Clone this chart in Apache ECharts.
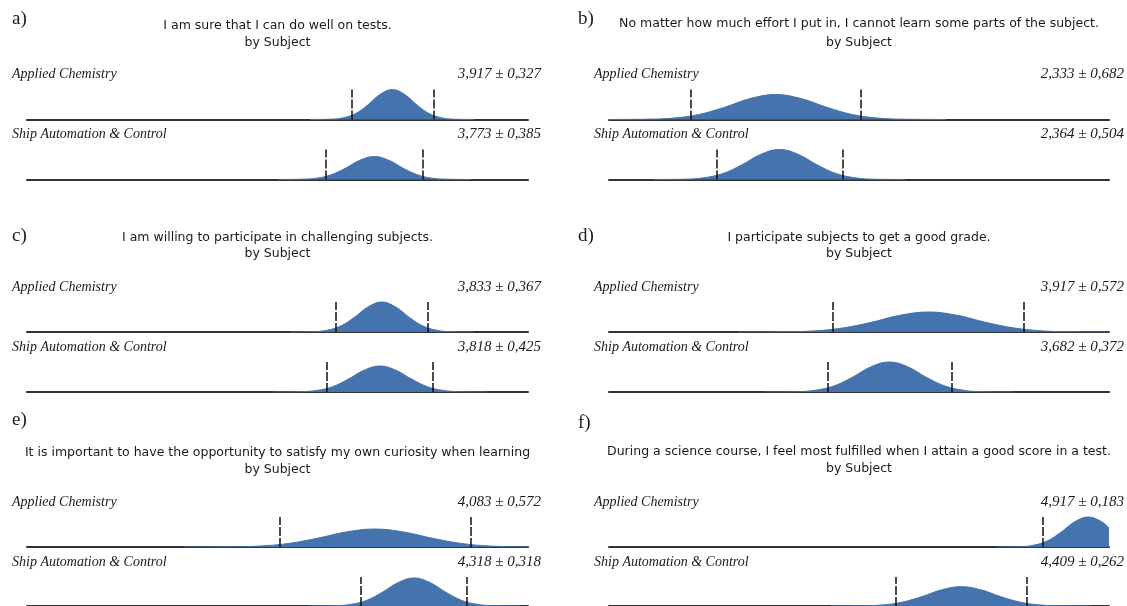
<!DOCTYPE html>
<html>
<head>
<meta charset="utf-8">
<title>Distributions by Subject</title>
<script src="https://cdn.jsdelivr.net/npm/echarts@6/dist/echarts.min.js"></script>
<style>
  html, body { margin: 0; padding: 0; background: #fff; }
  #chart { width: 1127px; height: 606px; }
</style>
</head>
<body>
<div id="chart"></div>
<script>
/**
 * Six small-multiple density plots (a-f), two subjects each.
 * Dashed markers sit at mean - sd and mean + sd.
 */

const PANEL_LETTERS = ['a)', 'b)', 'c)', 'd)', 'e)', 'f)'];
const PANEL_TITLES = [
    'I am sure that I can do well on tests.',
    'No matter how much effort I put in, I cannot learn some parts of the subject.',
    'I am willing to participate in challenging subjects.',
    'I participate subjects to get a good grade.',
    'It is important to have the opportunity to satisfy my own curiosity when learning',
    'During a science course, I feel most fulfilled when I attain a good score in a test.'
];
const SUBTITLE = 'by Subject';
const SUBJECTS = ['Applied Chemistry', 'Ship Automation & Control'];

// x range of each panel's scale
const AXIS_MIN = [1, 1, 1, 2, 2, 3];
const AXIS_MAX = [5, 5, 5, 5, 5, 5];

// per curve: a-AC, a-SAC, b-AC, b-SAC, ...
const MEANS = [3.917, 3.773, 2.333, 2.364, 3.833, 3.818, 3.917, 3.682, 4.083, 4.318, 4.917, 4.409];
const SDS   = [0.327, 0.385, 0.682, 0.504, 0.367, 0.425, 0.572, 0.372, 0.572, 0.318, 0.183, 0.262];
const STAT_LABELS = [
    '3,917 ± 0,327', '3,773 ± 0,385',
    '2,333 ± 0,682', '2,364 ± 0,504',
    '3,833 ± 0,367', '3,818 ± 0,425',
    '3,917 ± 0,572', '3,682 ± 0,372',
    '4,083 ± 0,572', '4,318 ± 0,318',
    '4,917 ± 0,183', '4,409 ± 0,262'
];

// density outlines: [x, height]
const densA1 = [[3.263, 0], [3.426, 0.3], [3.525, 1.7], [3.623, 5.9], [3.721, 14.6], [3.819, 25.1], [3.917, 30], [4.015, 25.1], [4.113, 14.6], [4.211, 5.9], [4.309, 1.7], [4.408, 0.3], [4.571, 0]];
const densA2 = [[3.003, 0], [3.195, 0.3], [3.311, 1.3], [3.426, 4.6], [3.542, 11.2], [3.657, 19.2], [3.773, 23], [3.889, 19.2], [4.004, 11.2], [4.120, 4.6], [4.235, 1.3], [4.351, 0.3], [4.543, 0]];
const densB1 = [[1.0, 0], [1.310, 0.3], [1.515, 1.4], [1.719, 5.0], [1.924, 12.2], [2.128, 20.9], [2.333, 25], [2.538, 20.9], [2.742, 12.2], [2.947, 5.0], [3.151, 1.4], [3.356, 0.3], [3.697, 0]];
const densB2 = [[1.356, 0], [1.608, 0.3], [1.759, 1.7], [1.910, 5.9], [2.062, 14.6], [2.213, 25.1], [2.364, 30], [2.515, 25.1], [2.666, 14.6], [2.818, 5.9], [2.969, 1.7], [3.120, 0.3], [3.372, 0]];
const densC1 = [[3.099, 0], [3.282, 0.3], [3.393, 1.7], [3.503, 5.9], [3.613, 14.6], [3.723, 25.1], [3.833, 30], [3.943, 25.1], [4.053, 14.6], [4.163, 5.9], [4.273, 1.7], [4.384, 0.3], [4.567, 0]];
const densC2 = [[2.968, 0], [3.180, 0.3], [3.308, 1.5], [3.435, 5.1], [3.563, 12.7], [3.690, 21.7], [3.818, 26], [3.946, 21.7], [4.073, 12.7], [4.201, 5.1], [4.328, 1.5], [4.456, 0.3], [4.668, 0]];
const densD1 = [[2.773, 0], [3.059, 0.2], [3.231, 1.1], [3.402, 4.0], [3.574, 9.7], [3.745, 16.7], [3.917, 20], [4.089, 16.7], [4.260, 9.7], [4.432, 4.0], [4.603, 1.1], [4.775, 0.2], [5.0, 0]];
const densD2 = [[2.938, 0], [3.124, 0.3], [3.236, 1.7], [3.347, 5.9], [3.459, 14.6], [3.570, 25.1], [3.682, 30], [3.794, 25.1], [3.905, 14.6], [4.017, 5.9], [4.128, 1.7], [4.240, 0.3], [4.426, 0]];
const densE1 = [[2.939, 0], [3.225, 0.2], [3.397, 1.0], [3.568, 3.6], [3.740, 8.8], [3.911, 15.0], [4.083, 18], [4.255, 15.0], [4.426, 8.8], [4.598, 3.6], [4.769, 1.0], [4.941, 0.2], [5.0, 0.1]];
const densE2 = [[3.682, 0], [3.841, 0.3], [3.936, 1.6], [4.032, 5.7], [4.127, 14.1], [4.223, 24.2], [4.318, 29], [4.413, 24.2], [4.509, 14.1], [4.604, 5.7], [4.700, 1.6], [4.795, 0.3], [4.954, 0]];
const densF1 = [[4.551, 0], [4.642, 0.3], [4.697, 1.7], [4.752, 5.9], [4.807, 14.6], [4.862, 25.1], [4.917, 30], [4.972, 25.1], [5.0, 19]];
const densF2 = [[3.885, 0], [4.016, 0.2], [4.095, 1.1], [4.173, 4.0], [4.252, 9.7], [4.330, 16.7], [4.409, 20], [4.488, 16.7], [4.566, 9.7], [4.645, 4.0], [4.723, 1.1], [4.802, 0.2], [4.933, 0]];
const DENSITIES = [densA1, densA2, densB1, densB2, densC1, densC2, densD1, densD2, densE1, densE2, densF1, densF2];

// --- layout (pixels) ---
const COL_LINE_LEFT = [27, 609];
const COL_LINE_WIDTH = [501, 500];
const COL_TEXT_LEFT = [12, 594];
const COL_STAT_RIGHT = [541, 1124];
const COL_LETTER_LEFT = [12, 578];
const COL_CENTER = [277.5, 859];
const ROW_BASELINES = [[119.5, 179.5], [332, 392], [547, 607]];
const ROW_LETTER_Y = [[19, 19], [236, 236], [420, 423]];
const ROW_TITLE_Y = [[26, 24], [238, 238], [453, 452]];
const ROW_SUB_Y = [[43, 43], [254, 254], [470, 469]];
const LABEL_OFFSET = 45;   // baseline to label centre
const GRID_HEIGHT = 32;
const MARKER_HEIGHT = 30;

const CURVE_COLOR = '#4573ae';
const AXIS_COLOR = '#333';
const TEXT_COLOR = '#1a1a1a';
const SERIF = '"Liberation Serif", "DejaVu Serif", serif';
const SANS = '"DejaVu Sans", Verdana, sans-serif';

const chart = echarts.init(document.getElementById('chart'));

const grids = [];
const xAxes = [];
const yAxes = [];
const series = [];
const texts = [];

for (let i = 0; i < DENSITIES.length; i++) {
    const panel = Math.floor(i / 2);
    const sub = i % 2;
    const col = panel % 2;
    const row = Math.floor(panel / 2);
    const baseline = ROW_BASELINES[row][sub];

    grids.push({
        left: COL_LINE_LEFT[col],
        width: COL_LINE_WIDTH[col],
        top: baseline - GRID_HEIGHT,
        height: GRID_HEIGHT
    });

    xAxes.push({
        type: 'value',
        gridIndex: i,
        min: AXIS_MIN[panel],
        max: AXIS_MAX[panel],
        axisLine: { show: true, onZero: false, lineStyle: { color: AXIS_COLOR, width: 2 } },
        axisTick: { show: false },
        axisLabel: { show: false },
        splitLine: { show: false }
    });

    yAxes.push({
        type: 'value',
        gridIndex: i,
        min: 0,
        max: GRID_HEIGHT,
        show: false,
        splitLine: { show: false }
    });

    const lo = MEANS[i] - SDS[i];
    const hi = MEANS[i] + SDS[i];

    series.push({
        type: 'line',
        xAxisIndex: i,
        yAxisIndex: i,
        data: DENSITIES[i],
        smooth: 0.4,
        symbol: 'none',
        lineStyle: { color: CURVE_COLOR, width: 1 },
        areaStyle: { color: CURVE_COLOR, opacity: 1 },
        z: 2,
        markLine: {
            silent: true,
            symbol: ['none', 'none'],
            label: { show: false },
            lineStyle: { color: '#111', width: 1.5, type: [9, 2] },
            data: [
                [{ coord: [lo, 0] }, { coord: [lo, MARKER_HEIGHT] }],
                [{ coord: [hi, 0] }, { coord: [hi, MARKER_HEIGHT] }]
            ]
        }
    });

    // subject label + mean ± sd
    const labelY = baseline - LABEL_OFFSET;
    texts.push({
        type: 'text',
        x: COL_TEXT_LEFT[col],
        y: labelY,
        style: { text: SUBJECTS[sub], font: 'italic 14px ' + SERIF, fill: TEXT_COLOR, verticalAlign: 'middle' }
    });
    texts.push({
        type: 'text',
        x: COL_STAT_RIGHT[col],
        y: labelY,
        style: { text: STAT_LABELS[i], font: 'italic 15px ' + SERIF, fill: TEXT_COLOR, align: 'right', verticalAlign: 'middle' }
    });
}

// panel letters and titles
for (let p = 0; p < PANEL_TITLES.length; p++) {
    const col = p % 2;
    const row = Math.floor(p / 2);
    texts.push({
        type: 'text',
        x: COL_LETTER_LEFT[col],
        y: ROW_LETTER_Y[row][col],
        style: { text: PANEL_LETTERS[p], font: '19px ' + SERIF, fill: TEXT_COLOR, verticalAlign: 'middle' }
    });
    texts.push({
        type: 'text',
        x: COL_CENTER[col],
        y: ROW_TITLE_Y[row][col],
        style: { text: PANEL_TITLES[p], font: '12.5px ' + SANS, fill: TEXT_COLOR, align: 'center', verticalAlign: 'middle' }
    });
    texts.push({
        type: 'text',
        x: COL_CENTER[col],
        y: ROW_SUB_Y[row][col],
        style: { text: SUBTITLE, font: '12.5px ' + SANS, fill: TEXT_COLOR, align: 'center', verticalAlign: 'middle' }
    });
}

chart.setOption({
    animation: false,
    backgroundColor: '#fff',
    grid: grids,
    xAxis: xAxes,
    yAxis: yAxes,
    series,
    graphic: { elements: texts }
});
</script>
</body>
</html>
